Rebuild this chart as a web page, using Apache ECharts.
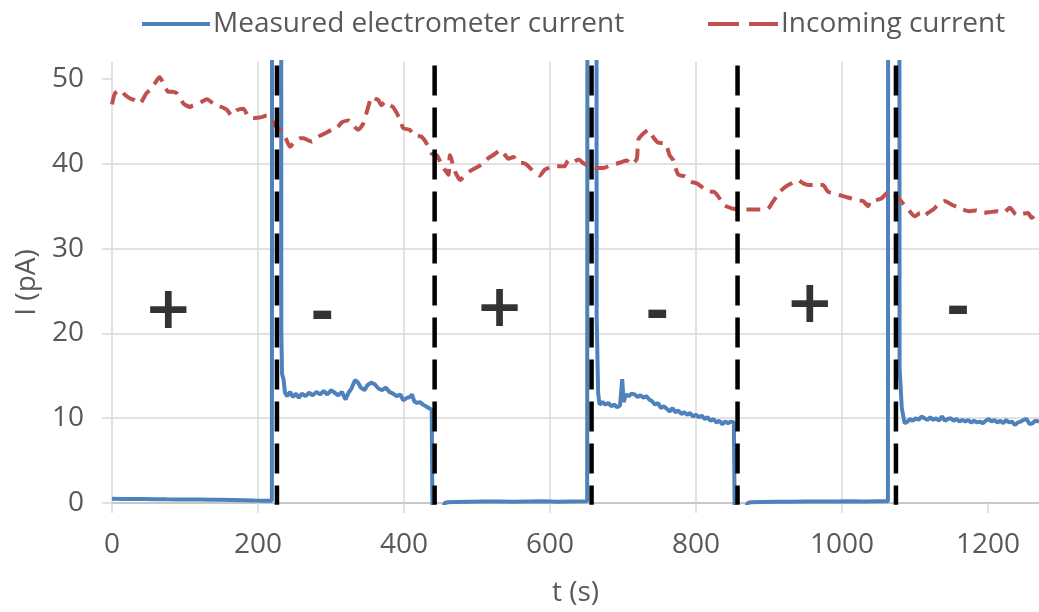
<!DOCTYPE html>
<html><head><meta charset="utf-8">
<script src="https://cdn.jsdelivr.net/npm/echarts@6/dist/echarts.min.js"></script>
<style>html,body{margin:0;padding:0;background:#fff}#c{width:1039px;height:612px}</style>
</head><body><div id="c"></div>
<script>
// Measured electrometer current (blue)
const blueT = [0,15,30,45,60,75,90,105,120,135,150,165,180,195,210,219,
  220,231,232,233,235,237,240,244,248,252,256,260,265,270,275,280,285,290,295,300,305,310,315,320,324,328,333,337,341,346,350,355,360,365,370,375,380,385,390,395,399,404,408,411,414,418,422,426,430,434,438,
  439,453,456,460,470,490,510,530,550,570,590,610,630,651,
  652,663,664,666,668,672,676,680,684,688,692,696,699,701,704,708,712,716,720,724,728,732,736,740,744,748,752,756,760,764,768,772,776,780,784,788,792,796,800,804,808,812,816,820,824,828,832,836,840,844,848,852,
  853,868,871,875,890,910,930,950,970,990,1010,1030,1050,1063,
  1064,1078,1079,1082,1086,1090,1093,1097,1101,1105,1109,1113,1117,1121,1125,1129,1133,1137,1141,1145,1149,1153,1157,1161,1165,1169,1173,1177,1181,1185,1189,1193,1197,1201,1205,1209,1213,1217,1221,1225,1229,1233,1237,1241,1245,1249,1253,1257,1261,1265,1270];
const blueV = [0.50,0.48,0.47,0.46,0.45,0.43,0.42,0.40,0.40,0.38,0.37,0.35,0.33,0.30,0.28,0.28,
  200,200,20,15.2,14.6,13.0,12.6,13.1,12.5,12.9,12.4,12.9,12.6,13.0,12.7,13.1,12.8,13.2,12.8,13.3,13.0,12.7,13.1,12.2,13.0,13.5,14.5,14.2,13.6,13.3,13.9,14.2,14.0,13.5,13.3,13.6,13.1,12.9,12.6,12.8,12.1,12.4,12.5,12.8,12.0,11.8,11.9,11.6,11.4,11.2,11.0,
  -0.6,-0.6,0.0,0.08,0.12,0.15,0.18,0.18,0.15,0.18,0.2,0.15,0.18,0.2,
  200,200,22,13.0,11.6,11.9,11.6,11.8,11.4,11.6,11.3,11.5,14.6,11.9,12.8,12.6,12.9,12.8,12.5,12.7,12.4,12.6,12.2,12.0,11.6,11.8,11.2,11.4,11.1,10.8,11.2,10.7,10.9,10.5,10.7,10.4,10.6,10.2,10.4,10.1,10.3,9.9,10.1,9.7,9.9,9.5,9.7,9.3,9.6,9.4,9.6,9.5,
  -0.6,-0.6,0.0,0.08,0.12,0.15,0.15,0.18,0.18,0.18,0.2,0.18,0.2,0.2,
  200,200,16,11.2,9.4,9.6,9.9,9.7,10.0,9.8,10.2,10.0,9.8,10.1,9.8,10.0,9.7,10.2,9.7,9.9,10.0,9.7,9.9,9.6,9.8,9.6,9.8,9.5,9.7,9.5,9.6,9.4,9.7,9.9,9.6,9.8,9.5,9.7,9.4,9.8,9.5,9.6,9.2,9.5,9.6,9.8,9.9,9.3,9.4,9.7,9.6];

// Incoming current (red, dashed)
const redT = [0,4,11,18,25,31,38,47,52,58,65,70,77,83,89,98,107,111,117,123,130,139,150,157,164,171,180,187,196,205,212,219,226,231,238,244,248,251,257,262,268,274,283,292,301,308,315,324,331,337,344,351,356,360,365,369,374,381,385,390,395,399,408,413,418,424,431,438,445,450,456,461,463,470,477,484,490,498,506,516,522,532,537,543,550,557,563,568,574,580,586,593,605,612,620,625,632,639,647,655,664,673,685,691,698,705,712,719,721,726,735,741,748,758,764,769,772,776,785,792,801,809,817,824,831,837,844,851,863,879,887,895,899,906,915,923,931,939,947,956,961,967,974,981,990,997,1005,1013,1022,1029,1036,1039,1046,1054,1061,1068,1075,1083,1091,1100,1107,1111,1118,1125,1132,1141,1150,1158,1166,1175,1184,1194,1203,1212,1221,1230,1239,1247,1255,1260,1267];
const redV = [47.0,48.3,48.7,48.1,47.7,47.5,47.1,48.3,48.7,49.4,50.2,49.6,48.5,48.5,48.3,47.1,46.7,46.9,47.0,47.3,47.6,47.1,46.7,46.4,45.7,46.3,46.5,45.5,45.4,45.5,45.7,45.1,44.3,44.0,43.0,42.0,42.4,42.6,43.0,43.0,42.8,42.6,43.2,43.6,44.0,44.2,44.9,45.1,44.5,44.0,44.7,46.7,47.9,47.7,47.5,46.9,47.3,46.9,46.7,46.0,45.1,44.2,44.0,43.4,43.3,43.2,42.4,41.2,41.0,40.2,39.3,38.7,41.0,39.1,38.1,38.7,39.1,39.5,39.9,40.7,41.0,41.6,41.2,40.6,40.8,40.1,40.1,39.9,39.4,38.9,38.6,39.3,39.7,39.7,39.7,40.4,40.2,40.5,40.0,39.7,39.5,39.5,39.9,40.0,40.2,40.4,39.9,40.6,42.8,43.4,44.0,43.2,42.5,42.4,41.0,40.4,39.5,38.7,38.5,37.9,37.7,37.2,36.7,36.7,36.1,35.2,34.9,34.7,34.6,34.6,34.6,34.6,34.7,35.6,36.7,37.3,37.7,38.1,37.7,37.5,37.5,37.5,37.5,36.7,36.5,36.3,36.1,35.9,35.7,35.6,35.0,35.6,35.7,35.9,36.5,36.7,36.1,35.4,34.6,33.8,34.2,33.8,34.2,34.6,35.2,35.6,35.2,34.9,34.6,34.4,34.5,34.2,34.3,34.4,34.2,34.8,34.0,34.1,34.2,33.6,34.4];

// Polarity switching times (black dashed lines)
const boundaryT = [226, 442, 657, 857, 1074];
// Polarity signs
const signT = [77, 288, 531, 747, 956, 1159];
const signV = [22.4, 21.9, 22.7, 22.1, 23.1, 22.5];
const signText = ['+', '-', '+', '-', '+', '-'];
// Tick values
const xTicks = [0, 200, 400, 600, 800, 1000, 1200];
const yTicks = [0, 10, 20, 30, 40, 50];

const FONT = 'Open Sans';
const GREY = '#595959';
const chart = echarts.init(document.getElementById('c'), null, {renderer: 'canvas'});
const blueData = blueT.map((t, i) => [t, blueV[i]]);
const redData = redT.map((t, i) => [t, redV[i]]);
const boundData = [];
boundaryT.forEach(t => { boundData.push([t, 51.6], [t, -0.2], [t, '-']); });
const signData = signT.map((t, i) => [t, signV[i]]);

chart.setOption({
  animation: false,
  backgroundColor: '#fff',
  textStyle: {fontFamily: FONT},
  grid: {left: 112, right: 0, top: 62, bottom: 107, containLabel: false},
  legend: [
    {left: 137, top: 5, itemWidth: 68, itemHeight: 4, itemGap: 0,
     data: [{name: 'Measured electrometer current', icon: 'rect'}],
     itemStyle: {color: '#4f81bd', borderWidth: 0},
     textStyle: {fontFamily: FONT, fontSize: 28, color: GREY, padding: [0, 0, 0, -2]}},
    {left: 703, top: 5, itemWidth: 70, itemHeight: 4, itemGap: 0,
     data: [{name: 'Incoming current', icon: 'path://M0,0H31V4H0Z M41,0H70V4H41Z'}],
     itemStyle: {color: '#c0504d', borderWidth: 0},
     textStyle: {fontFamily: FONT, fontSize: 28, color: GREY, padding: [0, 0, 0, -2]}}
  ],
  xAxis: {
    type: 'value', min: 0, max: 1270, interval: 200,
    name: 't (s)', nameLocation: 'middle', nameGap: 76,
    nameTextStyle: {fontFamily: FONT, fontSize: 28, color: GREY},
    axisLine: {show: true, lineStyle: {color: '#bfbfbf', width: 1.5}},
    axisTick: {show: true, length: 10, lineStyle: {color: '#d9d9d9', width: 1.5}, customValues: xTicks},
    axisLabel: {fontFamily: FONT, fontSize: 28, color: GREY, margin: 28, customValues: xTicks,
      formatter: v => String(v)},
    splitLine: {show: true, showMaxLine: false, lineStyle: {color: '#d9d9d9', width: 1.5}}
  },
  yAxis: {
    type: 'value', min: 0, max: 52, interval: 10,
    name: 'I (pA)', nameLocation: 'middle', nameGap: 70, nameRotate: 90,
    nameTextStyle: {fontFamily: FONT, fontSize: 28, color: GREY},
    axisLine: {show: false},
    axisTick: {show: true, length: 10, lineStyle: {color: '#d9d9d9', width: 1.5}, customValues: yTicks},
    axisLabel: {fontFamily: FONT, fontSize: 28, color: GREY, margin: 28, customValues: yTicks,
      formatter: v => String(v)},
    splitLine: {show: true, showMaxLine: false, lineStyle: {color: '#d9d9d9', width: 1.5}}
  },
  series: [
    {name: 'Measured electrometer current', type: 'line', data: blueData, symbol: 'none',
     clip: true, lineStyle: {color: '#4f81bd', width: 4}, itemStyle: {color: '#4f81bd'}, z: 2},
    {name: 'Incoming current', type: 'line', data: redData, symbol: 'none', smooth: 0.2,
     clip: true, lineStyle: {color: '#c0504d', width: 4, type: [14, 8]}, itemStyle: {color: '#c0504d'}, z: 3},
    {name: 'switch', type: 'line', data: boundData, symbol: 'none', clip: false, connectNulls: false,
     lineStyle: {color: '#000', width: 4.5, type: [30, 12]}, z: 4, silent: true},
    {name: 'sign', type: 'scatter', data: signData, symbolSize: 1, itemStyle: {color: 'rgba(0,0,0,0)'},
     silent: true, z: 5,
     label: {show: true, position: 'inside', formatter: p => signText[p.dataIndex],
       fontFamily: 'DejaVu Sans', fontWeight: 'bold', fontSize: 58, color: '#000'}}
  ]
});
</script>
</body></html>
